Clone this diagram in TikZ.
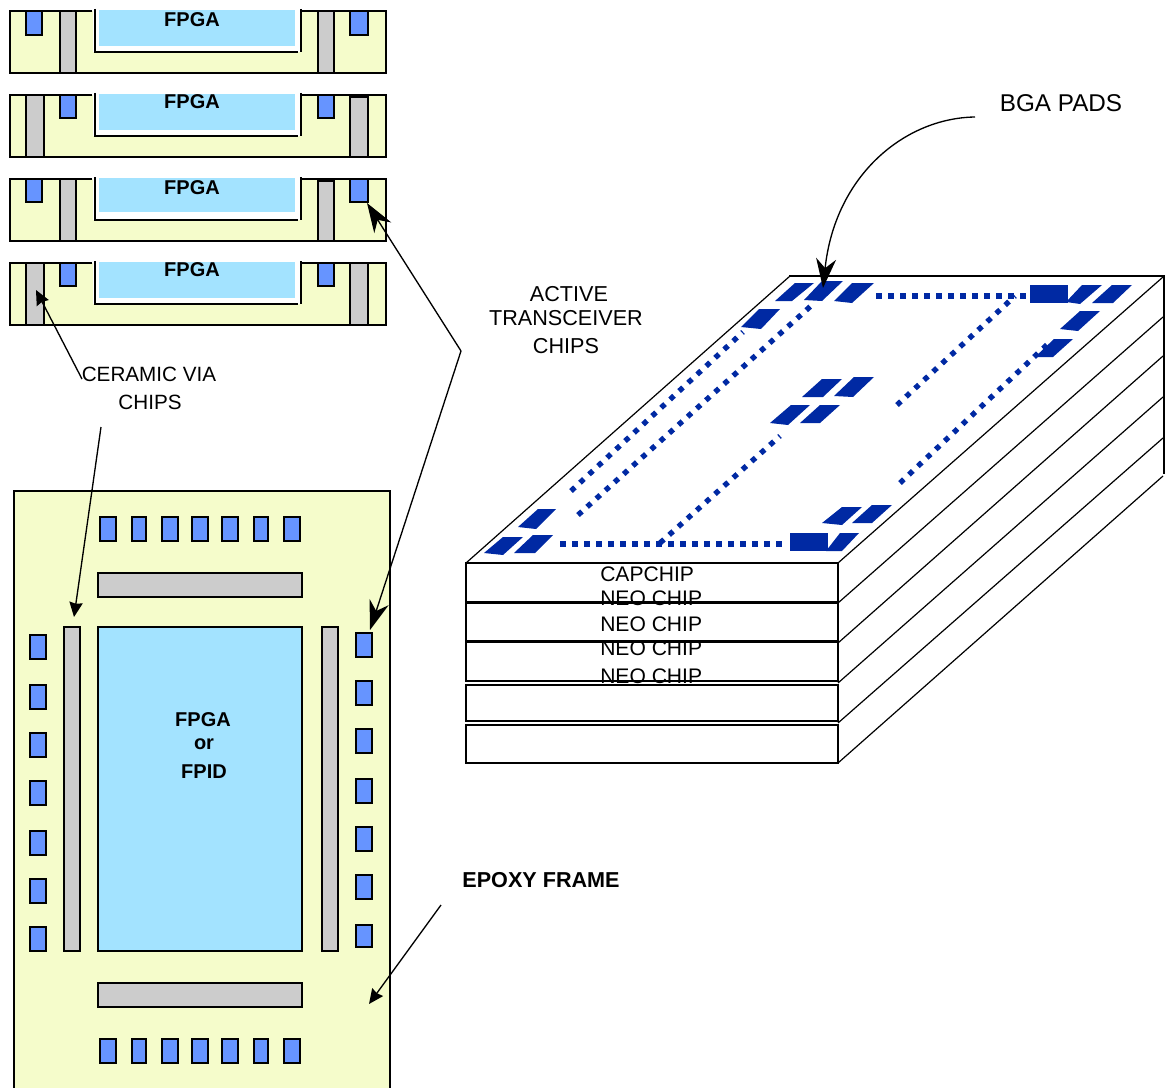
\documentclass[tikz,border=0pt]{standalone}
\usepackage{fontspec}
\setmainfont{Liberation Sans}
\usetikzlibrary{arrows.meta,positioning}
\definecolor{epoxy}{HTML}{F5FCCB}
\definecolor{die}{HTML}{A3E3FF}
\definecolor{xcvr}{HTML}{6694FF}
\definecolor{via}{HTML}{CCCCCC}
\definecolor{bga}{HTML}{0029A3}
% one slice of the section view, #1 is its y offset, #2 the height of the die
\newcommand{\slicebase}[2]{%
 \fill[epoxy] (10,11+#1) rectangle (386,73+#1);
 \draw[wall] (92,11+#1)--(10,11+#1)--(10,73+#1)--(386,73+#1)--(386,11+#1)--(301,11+#1);
 \fill[white] (93,8+#1) rectangle (301,52+#1);
 \fill[die] (99,10+#1) rectangle (295,10+#1+#2);
 \draw[wall] (95,9+#1)--(95,52+#1)--(298,52+#1);
 \draw[wall] (301,9+#1)--(301,52+#1);
}
\begin{document}
\begin{tikzpicture}[x=.75pt,y=-.75pt,>=Stealth,
 wall/.style={draw=black,line width=1.3pt},
 thin/.style={draw=black,line width=.9pt},
 pad/.style={wall,fill=xcvr},
 viabar/.style={wall,fill=via},
 dot/.style={draw=bga,line width=4.5pt,dash pattern=on 4.5pt off 4.5pt},
 diag/.style={draw=bga,line width=4pt,dash pattern=on 4pt off 5.2pt},
 land/.style={fill=bga},
 lead/.style={draw=black,line width=1pt},
 big/.style={-{Stealth[length=22pt,width=15pt,inset=7pt]}},
 small/.style={-{Stealth[length=11pt,width=10pt,inset=1pt]}},
 txt/.style={inner sep=0,font=\fontsize{16.2}{20}\selectfont},
 neo/.style={inner sep=0,anchor=west,font=\fontsize{15.8}{20}\selectfont},
 bold/.style={inner sep=0,font=\fontsize{15}{18}\selectfont\bfseries}]
\useasboundingbox (0,0) rectangle (1165,1088);
% section views
\slicebase{0}{36}
\draw[pad] (26,11) rectangle (42,35) (350,11) rectangle (368,35);
\draw[viabar] (60,11) rectangle (76,73) (318,11) rectangle (334,73);
\node[bold] (fpgaa) at (192,20) {FPGA};
\slicebase{84}{36}
\draw[pad] (60,95) rectangle (76,118) (318,95) rectangle (334,118);
\draw[viabar] (26,95) rectangle (44,157) (350,97) rectangle (368,157);
\node[bold] (fpgab) at (192,102) {FPGA};
\slicebase{168}{34}
\draw[pad] (26,179) rectangle (42,202) (350,179) rectangle (368,202);
\draw[viabar] (60,179) rectangle (76,241) (318,181) rectangle (334,241);
\node[bold] (fpgac) at (192,188) {FPGA};
\slicebase{252}{36}
\draw[pad] (60,263) rectangle (76,286) (318,263) rectangle (334,286);
\draw[viabar] (26,263) rectangle (44,325) (350,263) rectangle (368,325);
\node[bold] (fpgad) at (192,270) {FPGA};
% plan view
\fill[epoxy] (14,491) rectangle (390,1088);
\draw[wall] (14,1088)--(14,491)--(390,491)--(390,1088);
\draw[pad] (100,517) rectangle (116,541) (132,517) rectangle (146,541)
 (162,517) rectangle (178,541) (192,517) rectangle (208,541)
 (222,517) rectangle (238,541) (254,517) rectangle (268,541)
 (284,517) rectangle (300,541);
\draw[pad] (100,1039) rectangle (116,1063) (132,1039) rectangle (146,1063)
 (162,1039) rectangle (178,1063) (192,1039) rectangle (208,1063)
 (222,1039) rectangle (238,1063) (254,1039) rectangle (268,1063)
 (284,1039) rectangle (300,1063);
\draw[pad] (30,635) rectangle (46,659) (30,685) rectangle (46,709)
 (30,733) rectangle (46,757) (30,781) rectangle (46,805)
 (30,831) rectangle (46,855) (30,879) rectangle (46,903)
 (30,927) rectangle (46,951);
\draw[pad] (356,633) rectangle (372,657) (356,681) rectangle (372,705)
 (356,729) rectangle (372,753) (356,779) rectangle (372,803)
 (356,827) rectangle (372,851) (356,875) rectangle (372,899)
 (356,925) rectangle (372,947);
\draw[viabar] (98,573) rectangle (302,597) (98,983) rectangle (302,1007)
 (64,627) rectangle (80,951) (322,627) rectangle (338,951);
\draw[wall,fill=die] (98,627) rectangle (302,951);
\node[bold] (fpgamain) at (203,720) {FPGA};
\node[bold] (fpgaor) at (204,744) {or};
\node[bold] (fpid) at (204,772) {FPID};
% stack
\draw[thin] (466,563)--(790,276);
\draw[wall] (789,276)--(1165,276);
\draw[thin] (1164,276)--(1164,474);
\draw[thin] (838,563)--(1163,277);
\draw[thin] (838,603)--(1163,317);
\draw[thin] (838,643)--(1163,356);
\draw[thin] (838,683)--(1163,397);
\draw[thin] (838,723)--(1163,438);
\draw[thin] (838,763)--(1163,476);
\draw[wall,fill=white] (466,563) rectangle (838,602);
\draw[wall,fill=white] (466,603) rectangle (838,641);
\draw[wall,fill=white] (466,642) rectangle (838,681);
\draw[wall,fill=white] (466,685) rectangle (838,721);
\draw[wall,fill=white] (466,725) rectangle (838,763);
\node[neo] (capchip) at (600,574) {CAPCHIP};
\node[neo] (neoa) at (600,598) {NEO CHIP};
\node[neo] (neob) at (600,624) {NEO CHIP};
\node[neo] (neoc) at (600,648) {NEO CHIP};
\node[neo] (neod) at (600,676) {NEO CHIP};
% traces on the top face
\draw[diag] (571,491)--(743,332);
\draw[diag] (578,515)--(812,305);
\draw[diag] (660,543)--(780,436);
\draw[diag] (897,405)--(1015,296);
\draw[diag] (900,483)--(1051,341);
\draw[dot] (560,544)--(782,544);
\draw[dot] (876,296)--(1026,296);
% bga lands
\fill[land] (775,301)--(795,283)--(814,283)--(792,301)--cycle;
\fill[land] (804,300)--(822,281)--(843,281)--(822,301)--cycle;
\fill[land] (834,301)--(852,283)--(874,283)--(852,303)--cycle;
\fill[land] (1066,302)--(1082,285)--(1102,285)--(1080,304)--cycle;
\fill[land] (1092,303)--(1112,285)--(1132,285)--(1113,303)--cycle;
\fill[land] (1030,285) rectangle (1068,303);
\fill[land] (1060,329)--(1080,311)--(1100,311)--(1078,331)--cycle;
\fill[land] (1035,357)--(1054,339)--(1073,339)--(1053,357)--cycle;
\fill[land] (802,397)--(822,379)--(842,379)--(823,397)--cycle;
\fill[land] (834,396)--(854,377)--(874,377)--(853,397)--cycle;
\fill[land] (770,423)--(791,405)--(810,405)--(788,425)--cycle;
\fill[land] (800,423)--(820,405)--(840,405)--(820,423)--cycle;
\fill[land] (741,327)--(759,309)--(780,309)--(761,329)--cycle;
\fill[land] (518,527)--(538,509)--(556,509)--(536,529)--cycle;
\fill[land] (484,553)--(503,537)--(523,537)--(503,555)--cycle;
\fill[land] (514,553)--(533,535)--(553,535)--(535,553)--cycle;
\fill[land] (822,523)--(842,507)--(862,507)--(842,525)--cycle;
\fill[land] (852,523)--(872,505)--(892,505)--(872,523)--cycle;
\fill[land] (826,551)--(840,533)--(859,533)--(842,551)--cycle;
\fill[land] (790,533) rectangle (828,551);
% labels
\node[txt,font=\fontsize{18.2}{22}\selectfont] (bgalabel) at (1061,103) {BGA PADS};
\node[txt] (activelabel) at (569,294) {ACTIVE};
\node[txt] (xcvrlabel) at (566,318) {TRANSCEIVER};
\node[txt] (chipslabel) at (566,346) {CHIPS};
\node[txt,font=\fontsize{15.5}{20}\selectfont] (ceramiclabel) at (149,374) {CERAMIC VIA};
\node[txt,font=\fontsize{15.5}{20}\selectfont] (viachips) at (150,402) {CHIPS};
\node[bold,font=\fontsize{16.2}{20}\selectfont\bfseries] (epoxylabel) at (541,880) {EPOXY FRAME};
% leaders
\coordinate (bgafrom) at (975,117);
\coordinate (bgatip) at (823,288);
\coordinate (xcvrfrom) at (461,351);
\coordinate (xcvrup) at (367,203);
\coordinate (xcvrdown) at (370,630);
\coordinate (viafrom) at (82,379);
\coordinate (viaup) at (36,290);
\coordinate (viabelow) at (101,427);
\coordinate (viadown) at (74,617);
\coordinate (epoxyfrom) at (441,905);
\coordinate (epoxytip) at (369,1004);
\draw[lead,big] (bgafrom) .. controls (905,118) and (835,175) .. (bgatip);
\draw[lead,big] (xcvrfrom)--(xcvrup);
\draw[lead,big] (xcvrfrom)--(xcvrdown);
\draw[lead,small] (viafrom)--(viaup);
\draw[lead,small] (viabelow)--(viadown);
\draw[lead,small] (epoxyfrom)--(epoxytip);
\end{tikzpicture}
\end{document}
